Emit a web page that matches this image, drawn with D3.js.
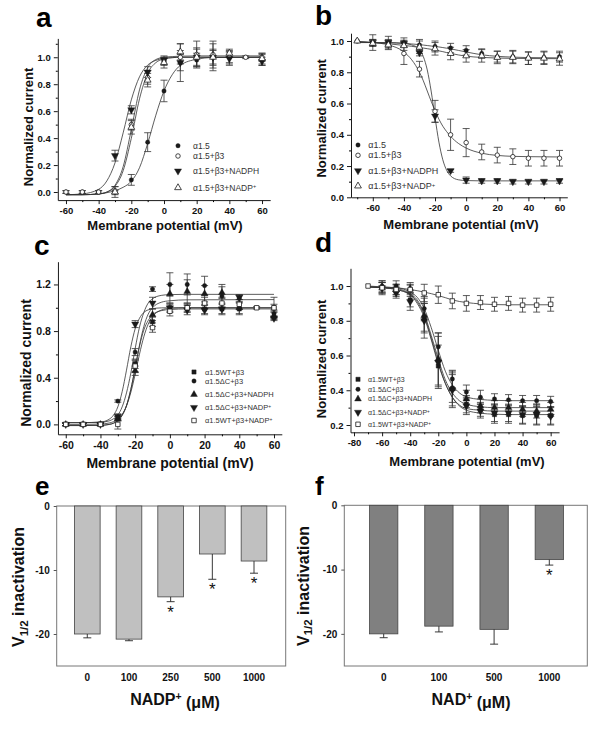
<!DOCTYPE html>
<html><head><meta charset="utf-8">
<script src="https://cdn.jsdelivr.net/npm/d3@7"></script>
<style>
body{margin:0;background:#fff}
svg{display:block}
text{font-family:"Liberation Sans",Arial,Helvetica,sans-serif}
</style>
</head><body>
<svg id="fig" width="601" height="746"></svg>
<script>
// ---------------- DATA ----------------
// Panel a : activation
const aNames = ["α1.5","α1.5+β3","α1.5+β3+NADPH","α1.5+β3+NADP^+"];
const aPtX = [
  [-60,-50,-40,-30,-20,-10,0,10,20,30,40,60],
  [-60,-50,-40,-30,-20,-10,0,10,20,30,40,50,60],
  [-30,-20,-10,0,10,20,30,40,60],
  [-30,-20,-10,0,10,20,30,40,60]
];
const aPtY = [
  [0,0,0,0,0.09,0.37,0.75,0.96,0.98,1.0,1.0,0.98],
  [0,0,0,0.01,0.50,0.85,0.97,1.0,1.02,1.02,1.0,1.0,1.0],
  [0.27,0.61,0.89,0.98,0.96,1.0,1.0,0.99,0.97],
  [0.0,0.48,0.83,0.96,1.04,1.0,1.0,1.03,0.99]
];
const aPtE = [
  [0.01,0.01,0.01,0.01,0.04,0.07,0.08,0.06,0.05,0.05,0.04,0.04],
  [0.01,0.01,0.01,0.03,0.04,0.05,0.03,0.05,0.1,0.1,0.05,0.01,0.03],
  [0.04,0.03,0.04,0.03,0.14,0.07,0.1,0.05,0.03],
  [0.04,0.05,0.05,0.04,0.06,0.06,0.06,0.03,0.04]
];
const aFitX = [-60,-50,-40,-35,-30,-25,-20,-15,-10,-5,0,5,10,20,30,60];
const aFitY = [
  [-0.02,-0.02,-0.015,-0.005,0.01,0.035,0.08,0.18,0.36,0.57,0.75,0.87,0.94,0.985,0.998,1.0],
  [-0.02,-0.02,-0.014,0.0,0.05,0.188,0.463,0.758,0.922,0.983,1.0,1.005,1.008,1.01,1.01,1.01],
  [-0.02,-0.014,0.02,0.082,0.216,0.439,0.684,0.855,0.942,0.977,0.992,0.997,1.0,1.0,1.0,1.0],
  [-0.02,-0.02,-0.014,-0.001,0.042,0.158,0.399,0.691,0.881,0.960,0.988,0.997,1.0,1.0,1.0,1.0]
];

// Panel b : inactivation
const bNames = aNames;
const bPtX = [
  [-60,-50,-40,-30,-20,-10,0,10,20,30,40,50,60],
  [-70,-60,-50,-40,-30,-20,-10,0,10,20,30,40,50,60],
  [-60,-50,-40,-30,-20,-10,0,10,20,30,40,50,60],
  [-70,-60,-50,-40,-30,-20,-10,0,10,20,30,40,50,60]
];
const bPtY = [
  [0.99,0.99,0.99,0.975,0.965,0.955,0.94,0.92,0.9,0.9,0.89,0.895,0.9],
  [1.0,0.99,0.98,0.92,0.82,0.55,0.40,0.35,0.29,0.27,0.26,0.25,0.25,0.25],
  [0.99,0.99,0.985,0.925,0.52,0.17,0.11,0.105,0.105,0.1,0.1,0.1,0.105],
  [1.0,0.985,0.975,0.97,0.96,0.95,0.92,0.905,0.905,0.895,0.895,0.89,0.89,0.885]
];
const bPtE = [
  [0.05,0.04,0.03,0.035,0.035,0.03,0.03,0.03,0.035,0.04,0.04,0.04,0.035],
  [0,0.02,0.02,0.07,0.05,0.07,0.1,0.09,0.05,0.05,0.05,0.05,0.05,0.05],
  [0.02,0.02,0.02,0.02,0.04,0.01,0.02,0.015,0.015,0.015,0.015,0.015,0.015],
  [0,0.02,0.03,0.03,0.04,0.04,0.04,0.04,0.04,0.04,0.04,0.04,0.04,0.04]
];
const bFitX = [-70,-60,-50,-40,-35,-30,-27.5,-25,-22.5,-20,-17.5,-15,-12.5,-10,-5,0,10,20,30,40,60];
const bFitY = [
  [0.993,0.99,0.988,0.985,0.981,0.977,0.974,0.971,0.968,0.965,0.962,0.958,0.954,0.95,0.94,0.93,0.912,0.902,0.897,0.894,0.892],
  [0.995,0.99,0.975,0.93,0.88,0.80,0.745,0.68,0.615,0.555,0.50,0.455,0.42,0.39,0.345,0.315,0.282,0.268,0.262,0.26,0.258],
  [0.99,0.99,0.99,0.985,0.975,0.947,0.90,0.815,0.68,0.51,0.353,0.24,0.172,0.137,0.112,0.107,0.105,0.105,0.105,0.105,0.105],
  [0.998,0.99,0.982,0.972,0.966,0.959,0.955,0.951,0.947,0.942,0.937,0.932,0.926,0.921,0.911,0.903,0.895,0.891,0.889,0.888,0.887]
];

// Panel c : activation, ΔC
const cNames = ["α1.5WT+β3","α1.5ΔC+β3","α1.5ΔC+β3+NADPH","α1.5ΔC+β3+NADP^+","α1.5WT+β3+NADP^+"];
const cPtX = [
  [-60,-50,-40,-30,-20,-10,0,10,20,30,40,60],
  [-60,-50,-40,-30,-20,-10,0,10,20,30,40,60],
  [-60,-50,-40,-30,-20,-10,0,10,20,30,40,60],
  [-60,-50,-40,-30,-20,-10,0,10,20,30,40,60],
  [-60,-50,-40,-30,-20,-10,0,10,20,30,40,50,60]
];
const cPtY = [
  [0,0,0,0.05,0.52,0.88,1.0,1.0,0.99,0.99,0.99,1.0],
  [0,0,0,0.2,0.62,1.16,1.2,1.2,1.19,1.1,1.08,0.95],
  [0,0,0,0.05,0.46,0.94,1.12,1.14,1.12,1.13,1.0,0.93],
  [0,0,0,0.07,0.86,1.04,1.0,0.98,0.98,0.99,1.09,0.91],
  [0,0,0,0.0,0.5,0.83,0.97,1.0,1.04,1.04,1.03,1.0,1.0]
];
const cPtE = [
  [0.01,0.01,0.01,0.02,0.04,0.04,0.03,0.03,0.04,0.05,0.05,0.03],
  [0.01,0.01,0.01,0.01,0.03,0.02,0.1,0.09,0.08,0.1,0.03,0.03],
  [0.01,0.01,0.01,0.02,0.04,0.05,0.08,0.1,0.07,0.05,0.05,0.03],
  [0.01,0.01,0.01,0.02,0.03,0.05,0.04,0.04,0.04,0.04,0.02,0.02],
  [0.01,0.01,0.01,0.04,0.05,0.04,0.04,0.04,0.05,0.05,0.04,0.01,0.09]
];
const cFitX = [-60,-50,-40,-35,-32.5,-30,-27.5,-25,-22.5,-20,-17.5,-15,-12.5,-10,-5,0,10,60];
const cFitY = [
  [-0.01,-0.01,-0.008,-0.001,0.01,0.032,0.077,0.16,0.30,0.485,0.67,0.81,0.89,0.94,0.975,0.985,0.99,0.99],
  [0.015,0.015,0.018,0.03,0.048,0.08,0.15,0.27,0.44,0.65,0.835,0.96,1.04,1.077,1.106,1.113,1.115,1.115],
  [-0.01,-0.01,-0.008,0.0,0.01,0.033,0.078,0.16,0.30,0.48,0.68,0.84,0.945,1.0,1.047,1.06,1.068,1.07],
  [0.015,0.015,0.02,0.044,0.079,0.15,0.28,0.465,0.665,0.82,0.91,0.96,0.982,0.992,0.999,1.0,1.0,1.0],
  [0.0,0.0,0.003,0.012,0.023,0.045,0.086,0.159,0.275,0.43,0.603,0.752,0.859,0.924,0.98,0.995,1.0,1.0]
];

// Panel d : inactivation, ΔC
const dNames = cNames;
const dPtX = [
  [-60,-50,-40,-30,-20,-10,0,10,20,30,40,50,60],
  [-60,-50,-40,-30,-20,-10,0,10,20,30,40,50,60],
  [-60,-50,-40,-30,-20,-10,0,10,20,30,40,50,60],
  [-60,-50,-40,-30,-20,-10,0,10,20,30,40,50,60],
  [-70,-60,-50,-40,-30,-20,-10,0,10,20,30,40,50,60]
];
const dPtY = [
  [0.99,0.97,0.92,0.82,0.54,0.41,0.32,0.29,0.26,0.26,0.255,0.255,0.255],
  [1.0,1.0,0.98,0.87,0.65,0.465,0.39,0.36,0.35,0.345,0.34,0.34,0.335],
  [0.99,0.98,0.985,0.83,0.58,0.41,0.35,0.31,0.30,0.30,0.29,0.28,0.29],
  [0.99,0.96,0.91,0.80,0.56,0.40,0.31,0.28,0.27,0.27,0.26,0.26,0.25],
  [1.0,0.99,0.98,0.98,0.96,0.95,0.914,0.90,0.905,0.895,0.90,0.89,0.89,0.895]
];
const dPtE = [
  [0.03,0.03,0.04,0.08,0.12,0.1,0.05,0.04,0.05,0.05,0.05,0.05,0.05],
  [0.03,0.03,0.03,0.07,0.08,0.05,0.04,0.04,0.03,0.03,0.03,0.03,0.03],
  [0.03,0.03,0.02,0.1,0.15,0.08,0.05,0.04,0.04,0.04,0.04,0.04,0.04],
  [0.03,0.03,0.05,0.1,0.15,0.1,0.05,0.04,0.05,0.05,0.05,0.06,0.05],
  [0,0.04,0.03,0.04,0.05,0.05,0.045,0.045,0.04,0.04,0.04,0.04,0.04,0.04]
];
const dFitX = [-70,-60,-50,-40,-35,-30,-25,-20,-15,-10,-5,0,10,20,30,60];
const dFitY = [
  [0.995,0.99,0.98,0.95,0.91,0.83,0.70,0.56,0.44,0.36,0.31,0.285,0.268,0.262,0.26,0.26],
  [0.995,0.993,0.99,0.965,0.935,0.87,0.76,0.63,0.51,0.43,0.385,0.362,0.347,0.342,0.34,0.34],
  [0.995,0.99,0.985,0.955,0.92,0.84,0.715,0.58,0.46,0.385,0.34,0.32,0.305,0.30,0.30,0.30],
  [0.995,0.99,0.98,0.95,0.90,0.82,0.69,0.55,0.44,0.36,0.315,0.295,0.285,0.28,0.28,0.28],
  [1.0,0.995,0.99,0.98,0.973,0.965,0.956,0.945,0.933,0.92,0.911,0.905,0.897,0.893,0.892,0.892]
];

// Panel e : V1/2 vs NADP+
const eCats = ["0","100","250","500","1000"];
const eVals = [-20.0,-20.8,-14.2,-7.5,-8.6];
const eErr  = [0.6,0.25,0.75,3.95,1.9];
const eSig  = [false,false,true,true,true];
// Panel f : V1/2 vs NAD+
const fCats = ["0","100","500","1000"];
const fVals = [-20.0,-18.8,-19.3,-8.45];
const fErr  = [0.6,0.9,2.3,0.85];
const fSig  = [false,false,false,true];
const barYTicks = [0,-10,-20];

// ---------------- DRAWING ----------------
const svg = d3.select("#fig");
svg.append("rect").attr("width",601).attr("height",746).attr("fill","#fff");

const SYM = {
  circle:  {type:d3.symbolCircle,   fill:true,  size:15},
  ocircle: {type:d3.symbolCircle,   fill:false, size:16},
  square:  {type:d3.symbolSquare,   fill:true,  size:18},
  osquare: {type:d3.symbolSquare,   fill:false, size:20},
  tri:     {type:d3.symbolTriangle, fill:true,  size:20},
  otri:    {type:d3.symbolTriangle, fill:false, size:20},
  tridown: {type:d3.symbolTriangle, fill:true,  size:22, rot:180}
};
const INK = "#1a1a1a";

function addSup(sel, str){
  const parts = str.split("^");
  sel.append("tspan").text(parts[0]);
  if(parts.length>1) sel.append("tspan").attr("font-size","65%").attr("dy","-0.45em").text(parts[1]);
}
function drawSym(g, key, cx, cy){
  const s = SYM[key];
  g.append("path")
    .attr("d", d3.symbol().type(s.type).size(s.size)())
    .attr("transform", `translate(${cx},${cy})` + (s.rot?` rotate(${s.rot})`:""))
    .attr("fill", s.fill? INK : "#fff")
    .attr("stroke", INK).attr("stroke-width", s.fill?0.4:0.8);
}

function linePanel(p){
  const g = svg.append("g");
  const x = d3.scaleLinear().domain(p.xDom).range(p.xRng);
  const y = d3.scaleLinear().domain(p.yDom).range(p.yRng);
  const y0 = p.yRng[0], x0 = p.xRng[0];
  g.append("g").attr("transform",`translate(0,${y0})`)
    .call(d3.axisBottom(x).tickValues(p.xMinor).tickSize(2).tickFormat(""))
    .call(s=>s.select(".domain").remove());
  g.append("g").attr("transform",`translate(${x0},0)`)
    .call(d3.axisLeft(y).tickValues(p.yMinor).tickSize(2).tickFormat(""))
    .call(s=>s.select(".domain").remove());
  const ax = g.append("g").attr("transform",`translate(0,${y0})`)
    .call(d3.axisBottom(x).tickValues(p.xTicks).tickSize(4).tickSizeOuter(0).tickPadding(3).tickFormat(d=>String(d)));
  const ay = g.append("g").attr("transform",`translate(${x0},0)`)
    .call(d3.axisLeft(y).tickValues(p.yTicks).tickSize(4).tickSizeOuter(0).tickPadding(3).tickFormat(d=>d.toFixed(1)));
  [ax,ay].forEach(a=>{
    a.selectAll("path,line").attr("stroke",INK).attr("stroke-width",1);
    a.selectAll("text").attr("font-size",p.tickFs).attr("font-weight","bold").attr("fill","#111")
      .attr("font-family",'"Liberation Sans",Arial,sans-serif');
  });
  const line = d3.line().x(d=>x(d[0])).y(d=>y(d[1])).curve(d3.curveMonotoneX);
  p.fitY.forEach(ys=>{
    g.append("path").datum(p.fitX.map((v,i)=>[v,ys[i]])).attr("d",line)
      .attr("fill","none").attr("stroke","#333").attr("stroke-width",0.8);
  });
  p.ptY.forEach((ys,si)=>{
    ys.forEach((v,i)=>{
      const e = p.ptE[si][i]; if(!e) return;
      const cx = x(p.ptX[si][i]), yt = y(v+e), yb = y(v-e);
      g.append("line").attr("x1",cx).attr("x2",cx).attr("y1",yt).attr("y2",yb).attr("stroke","#333").attr("stroke-width",0.8);
      [yt,yb].forEach(yy=>g.append("line").attr("x1",cx-3.5).attr("x2",cx+3.5).attr("y1",yy).attr("y2",yy).attr("stroke","#333").attr("stroke-width",0.8));
    });
  });
  p.ptY.forEach((ys,si)=>{
    ys.forEach((v,i)=>drawSym(g, p.sym[si], x(p.ptX[si][i]), y(v)));
  });
  p.names.forEach((n,i)=>{
    const yy = p.leg.ys[i];
    drawSym(g, p.sym[i], p.leg.mx, yy);
    const t = g.append("text").attr("x",p.leg.tx).attr("y",yy + p.leg.fs*0.35)
      .attr("font-size",p.leg.fs).attr("fill","#333");
    addSup(t, n);
  });
  g.append("text").attr("x",p.xTitle[0]).attr("y",p.xTitle[1]).attr("text-anchor","middle")
    .attr("font-size",p.titleFs).attr("font-weight","bold").attr("fill","#111").text("Membrane potential (mV)");
  g.append("text").attr("transform",`translate(${p.yTitle[0]},${p.yTitle[1]}) rotate(-90)`).attr("dy","0.35em")
    .attr("text-anchor","middle").attr("font-size",p.titleFs).attr("font-weight","bold").attr("fill","#111").text("Normalized current");
  g.append("text").attr("x",p.label[0]).attr("y",p.label[1]).attr("font-size",28).attr("font-weight","bold").attr("fill","#000").text(p.id);
}

linePanel({id:"a", xDom:[-65,65], xRng:[57.8,270.2], yDom:[-0.06,1.14], yRng:[200.1,38.4],
  xTicks:[-60,-40,-20,0,20,40,60], xMinor:[-50,-30,-10,10,30,50], yTicks:[0,0.2,0.4,0.6,0.8,1.0], yMinor:[0.1,0.3,0.5,0.7,0.9,1.1],
  ptX:aPtX, ptY:aPtY, ptE:aPtE, fitX:aFitX, fitY:aFitY, names:aNames, sym:["circle","ocircle","tridown","otri"],
  leg:{mx:178, tx:193, ys:[145.7,156,171,187.7], fs:8.5}, tickFs:9.5, titleFs:13,
  xTitle:[165,230], yTitle:[28,127], label:[36,26.5]});
linePanel({id:"b", xDom:[-74,65], xRng:[351,567.3], yDom:[0,1.05], yRng:[197.3,33.2],
  xTicks:[-60,-40,-20,0,20,40,60], xMinor:[-70,-50,-30,-10,10,30,50], yTicks:[0,0.2,0.4,0.6,0.8,1.0], yMinor:[0.1,0.3,0.5,0.7,0.9],
  ptX:bPtX, ptY:bPtY, ptE:bPtE, fitX:bFitX, fitY:bFitY, names:bNames, sym:["circle","ocircle","tridown","otri"],
  leg:{mx:358, tx:368.3, ys:[145,155.3,170.7,186], fs:9}, tickFs:9.5, titleFs:13,
  xTitle:[461,229], yTitle:[321.7,118.3], label:[315,25]});
linePanel({id:"c", xDom:[-64.5,64.5], xRng:[57.95,281.8], yDom:[-0.085,1.395], yRng:[434.3,261.7],
  xTicks:[-60,-40,-20,0,20,40,60], xMinor:[-50,-30,-10,10,30,50], yTicks:[0,0.4,0.8,1.2], yMinor:[0.2,0.6,1.0],
  ptX:cPtX, ptY:cPtY, ptE:cPtE, fitX:cFitX, fitY:cFitY, names:cNames, sym:["square","circle","tri","tridown","osquare"],
  leg:{mx:194, tx:205, ys:[372,381,394.5,407.5,420.5], fs:7.5}, tickFs:10.5, titleFs:14,
  xTitle:[170,468], yTitle:[26,363], label:[34,255]});
linePanel({id:"d", xDom:[-82.5,66], xRng:[350.5,559.1], yDom:[0.158,1.102], yRng:[432.3,268.3],
  xTicks:[-80,-60,-40,-20,0,20,40,60], xMinor:[-70,-50,-30,-10,10,30,50], yTicks:[0.2,0.4,0.6,0.8,1.0], yMinor:[0.3,0.5,0.7,0.9],
  ptX:dPtX, ptY:dPtY, ptE:dPtE, fitX:dFitX, fitY:dFitY, names:dNames, sym:["square","circle","tri","tridown","osquare"],
  leg:{mx:358, tx:368, ys:[379.3,389.3,399,412.3,424.3], fs:7}, tickFs:9.5, titleFs:13,
  xTitle:[467,466], yTitle:[321,359], label:[315,251.7]});

function barPanel(p){
  const g = svg.append("g");
  const x = d3.scaleBand().domain(p.cats).range(p.xRng).paddingInner(p.pi).paddingOuter(p.po);
  const y = d3.scaleLinear().domain([-25,0]).range(p.yRng);
  g.append("rect").attr("x",p.frame[0]).attr("y",y(0)).attr("width",p.frame[1]-p.frame[0]).attr("height",y(-25)-y(0))
    .attr("fill","none").attr("stroke","#777").attr("stroke-width",1);
  const ay = g.append("g").attr("transform",`translate(${p.frame[0]},0)`)
    .call(d3.axisLeft(y).tickValues(barYTicks).tickSize(3).tickSizeOuter(0).tickPadding(4).tickFormat(d=>String(d)));
  ay.select(".domain").remove();
  ay.selectAll("line").attr("stroke","#555");
  ay.selectAll("text").attr("font-size",10).attr("font-weight","bold").attr("fill","#111").attr("font-family",'"Liberation Sans",Arial,sans-serif');
  p.cats.forEach((c,i)=>{
    const v = p.vals[i], e = p.err[i], cx = x(c)+x.bandwidth()/2;
    g.append("rect").attr("x",x(c)).attr("y",y(0)).attr("width",x.bandwidth()).attr("height",y(v)-y(0))
      .attr("fill",p.fill).attr("stroke","#444").attr("stroke-width",0.8);
    g.append("line").attr("x1",cx).attr("x2",cx).attr("y1",y(v)).attr("y2",y(v-e)).attr("stroke","#222").attr("stroke-width",0.9);
    g.append("line").attr("x1",cx-4).attr("x2",cx+4).attr("y1",y(v-e)).attr("y2",y(v-e)).attr("stroke","#222").attr("stroke-width",0.9);
    if(p.sig[i]) g.append("text").attr("x",cx).attr("y",y(v-e)+16).attr("text-anchor","middle")
      .attr("font-size",17).attr("fill","#111").text("*");
    g.append("text").attr("x",cx).attr("y",680.5).attr("text-anchor","middle").attr("font-size",10)
      .attr("font-weight","bold").attr("fill","#111").text(c);
  });
  const xt = g.append("text").attr("x",p.xTitle[0]).attr("y",p.xTitle[1]).attr("text-anchor","middle")
    .attr("font-size",16).attr("font-weight","bold").attr("fill","#111");
  xt.append("tspan").text(p.xName);
  xt.append("tspan").attr("font-size","65%").attr("dy","-0.5em").text("+");
  xt.append("tspan").attr("dy","0.5em").text(" (μM)");
  const yt = g.append("text").attr("transform",`translate(${p.yTitle[0]},${p.yTitle[1]}) rotate(-90)`).attr("dy","0.35em")
    .attr("text-anchor","middle").attr("font-size",16).attr("font-weight","bold").attr("fill","#111");
  yt.append("tspan").text("V");
  yt.append("tspan").attr("font-size","72%").attr("dy","0.3em").text("1/2");
  yt.append("tspan").attr("dy","-0.22em").text(" inactivation");
  g.append("text").attr("x",p.label[0]).attr("y",p.label[1]).attr("font-size",26).attr("font-weight","bold").attr("fill","#000").text(p.id);
}
barPanel({id:"e", cats:eCats, vals:eVals, err:eErr, sig:eSig, fill:"#c0c0c0",
  xRng:[66.45,274.85], pi:0.384, po:0.192, yRng:[666,506], frame:[56.7,285.7],
  xName:"NADP", xTitle:[175,705], yTitle:[18.5,587], label:[35,495]});
barPanel({id:"f", cats:fCats, vals:fVals, err:fErr, sig:fSig, fill:"#808080",
  xRng:[356.1,576.9], pi:0.487, po:0.2435, yRng:[666,505.3], frame:[344.3,587.3],
  xName:"NAD", xTitle:[471,705], yTitle:[303,586], label:[315,495]});
</script>
</body></html>
